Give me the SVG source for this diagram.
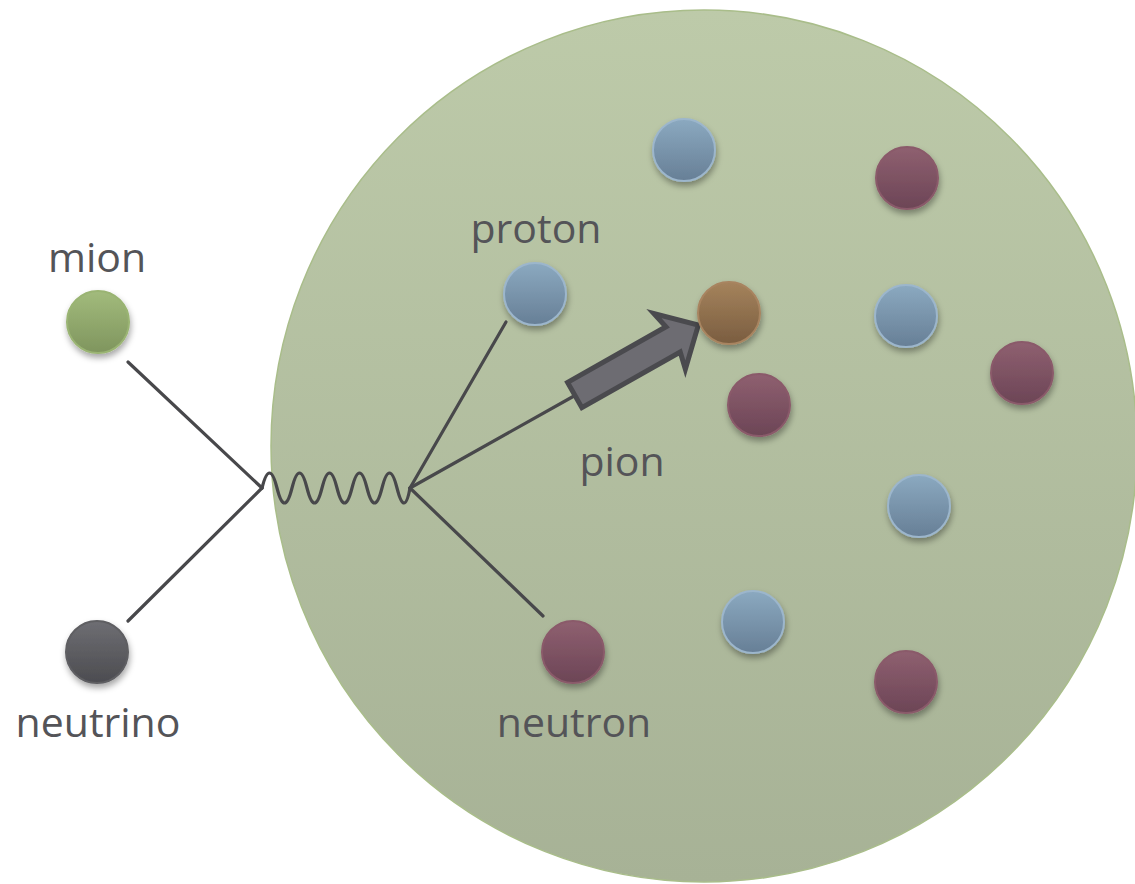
<svg xmlns="http://www.w3.org/2000/svg" width="1135" height="884" viewBox="0 0 1135 884">
<style>
.lbl{font-family:"Open Sans","Liberation Sans",sans-serif;font-size:41px;fill:#545458;text-anchor:middle}
.ln{stroke:#48484b;stroke-width:3.2;fill:none;stroke-linecap:round;stroke-linejoin:round}
.p{filter:url(#sh)}
</style>
<defs>
<linearGradient id="gBig" x1="0" y1="0" x2="0" y2="1"><stop offset="0" stop-color="#bdcaa9"/><stop offset="1" stop-color="#a7b296"/></linearGradient>
<linearGradient id="gBlue" x1="0" y1="0" x2="0" y2="1"><stop offset="0" stop-color="#8ba9c0"/><stop offset="1" stop-color="#677f96"/></linearGradient>
<linearGradient id="gRed" x1="0" y1="0" x2="0" y2="1"><stop offset="0" stop-color="#8f6070"/><stop offset="1" stop-color="#6c4556"/></linearGradient>
<linearGradient id="gBrown" x1="0" y1="0" x2="0" y2="1"><stop offset="0" stop-color="#a5835c"/><stop offset="1" stop-color="#7a5d40"/></linearGradient>
<linearGradient id="gGreen" x1="0" y1="0" x2="0" y2="1"><stop offset="0" stop-color="#a2bb7c"/><stop offset="1" stop-color="#7f955e"/></linearGradient>
<linearGradient id="gDark" x1="0" y1="0" x2="0" y2="1"><stop offset="0" stop-color="#6e6e73"/><stop offset="1" stop-color="#4c4c50"/></linearGradient>
<filter id="sh" x="-30%" y="-30%" width="160%" height="170%"><feDropShadow dx="1" dy="4" stdDeviation="3" flood-color="#000" flood-opacity="0.35"/></filter>
</defs>
<g id="nucleus"><ellipse cx="704" cy="446" rx="433" ry="436" fill="url(#gBig)" stroke="#a9bd8a" stroke-width="1.5"/></g>
<g id="connectors">
<line class="ln" x1="128" y1="362" x2="262" y2="488"/>
<line class="ln" x1="128" y1="621" x2="262" y2="488"/>
<path class="ln" stroke-width="3.6" d="M262,488 q7.5,-30 15,0 t15,0 t15,0 t15,0 t15,0 t15,0 t15,0 t15,0 t15,0 t13,0"/>
<line class="ln" x1="410" y1="488" x2="506" y2="322"/>
<line class="ln" x1="410" y1="488" x2="543" y2="616"/>
<line class="ln" x1="410" y1="488" x2="574" y2="396"/>
<polygon transform="translate(573,396) rotate(-29.5)" points="2,-14.5 115,-14.5 111,-32 144,0 111,32 115,14.5 2,14.5" fill="#6d6c72" stroke="#4a4a4e" stroke-width="5" stroke-linejoin="miter"/>
</g>
<g id="mion"><circle class="p" cx="98" cy="322" r="31" fill="url(#gGreen)" stroke="#9ab473" stroke-width="2"/><text class="lbl" x="97" y="272">mion</text></g>
<g id="neutrino"><circle class="p" cx="97" cy="652" r="31" fill="url(#gDark)" stroke="#5e5e62" stroke-width="2"/><text class="lbl" x="98" y="737">neutrino</text></g>
<g id="proton"><circle class="p" cx="535" cy="294" r="31" fill="url(#gBlue)" stroke="#9cb6cc" stroke-width="2"/><text class="lbl" x="536" y="243">proton</text></g>
<g id="neutron"><circle class="p" cx="573" cy="652" r="31" fill="url(#gRed)" stroke="#8a5a6a" stroke-width="2"/><text class="lbl" x="574" y="737">neutron</text></g>
<g id="pion"><circle class="p" cx="729" cy="313" r="31" fill="url(#gBrown)" stroke="#a88460" stroke-width="2"/><text class="lbl" x="622" y="476">pion</text></g>
<g id="p1"><circle class="p" cx="684" cy="150" r="31" fill="url(#gBlue)" stroke="#9cb6cc" stroke-width="2"/></g>
<g id="p2"><circle class="p" cx="906" cy="316" r="31" fill="url(#gBlue)" stroke="#9cb6cc" stroke-width="2"/></g>
<g id="p3"><circle class="p" cx="919" cy="506" r="31" fill="url(#gBlue)" stroke="#9cb6cc" stroke-width="2"/></g>
<g id="p4"><circle class="p" cx="753" cy="622" r="31" fill="url(#gBlue)" stroke="#9cb6cc" stroke-width="2"/></g>
<g id="n1"><circle class="p" cx="907" cy="178" r="31" fill="url(#gRed)" stroke="#8a5a6a" stroke-width="2"/></g>
<g id="n2"><circle class="p" cx="1022" cy="373" r="31" fill="url(#gRed)" stroke="#8a5a6a" stroke-width="2"/></g>
<g id="n3"><circle class="p" cx="759" cy="405" r="31" fill="url(#gRed)" stroke="#8a5a6a" stroke-width="2"/></g>
<g id="n4"><circle class="p" cx="906" cy="682" r="31" fill="url(#gRed)" stroke="#8a5a6a" stroke-width="2"/></g>
</svg>
